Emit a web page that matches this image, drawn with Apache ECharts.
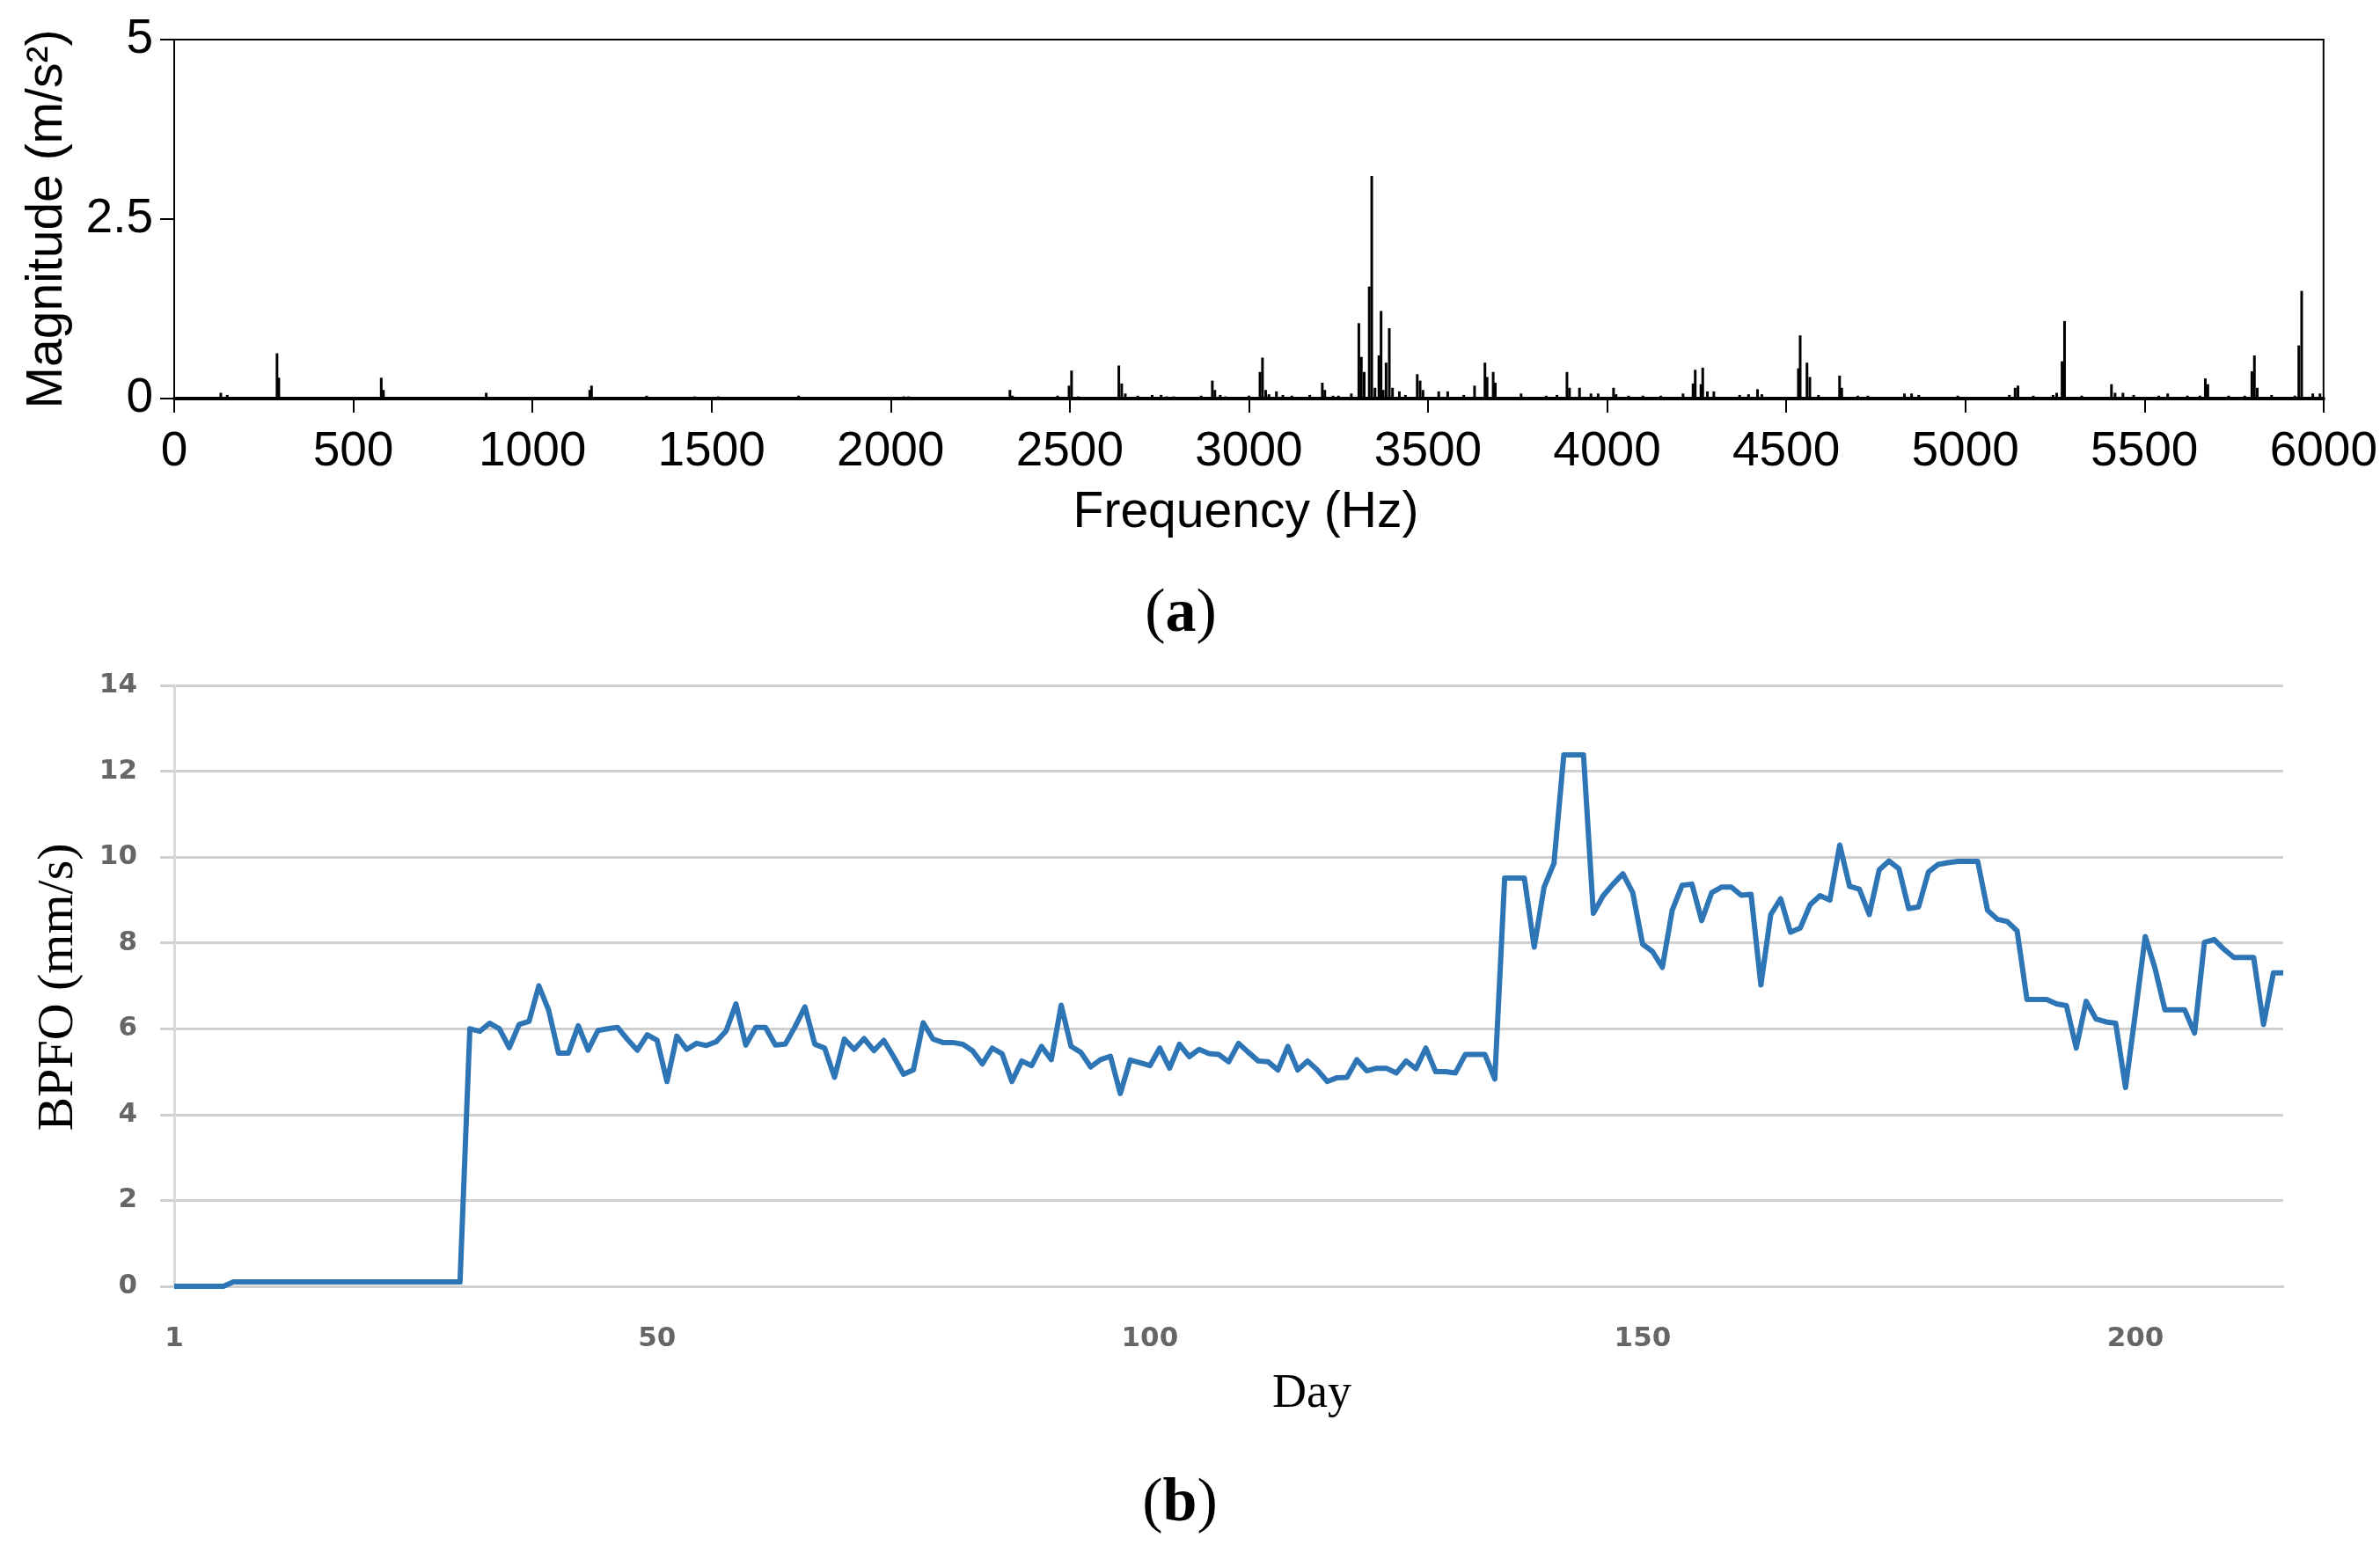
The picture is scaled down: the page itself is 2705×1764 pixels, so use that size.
<!DOCTYPE html>
<html>
<head>
<meta charset="utf-8">
<script src="https://cdn.jsdelivr.net/npm/echarts@6/dist/echarts.min.js"></script>
<style>
    html, body { margin: 0; padding: 0; background: #fff; }
    #chart { width: 2705px; height: 1764px; }
</style>
</head>
<body>
<div id="chart"></div>
<script>
// (a) spectrum peaks: frequency in Hz and magnitude in m/s^2
var specFreq = [130, 148, 287, 292, 578, 584, 871, 1160, 1165, 1319, 1453, 1519, 1743, 2037, 2050,
    2333, 2340, 2466, 2498, 2505, 2524, 2637, 2645, 2655, 2690, 2730, 2755, 2770, 2790, 2867, 2898,
    2905, 2920, 2935, 3000, 3031, 3038, 3047, 3056, 3077, 3095, 3120, 3170, 3205, 3212, 3235, 3250,
    3286, 3307, 3314, 3322, 3336, 3343, 3352, 3363, 3369, 3375, 3383, 3392, 3401, 3420, 3437, 3470,
    3478, 3486, 3530, 3555, 3600, 3630, 3659, 3665, 3682, 3688, 3760, 3830, 3860, 3888, 3895, 3923,
    3955, 3975, 4018, 4025, 4060, 4100, 4150, 4212, 4240, 4246, 4262, 4267, 4280, 4298, 4370, 4395,
    4420, 4432, 4534, 4539, 4558, 4566, 4590, 4649, 4655, 4700, 4728, 4830, 4850, 4870, 4979, 5123,
    5139, 5147, 5190, 5245, 5255, 5270, 5277, 5325, 5408, 5418, 5440, 5470, 5540, 5565, 5620, 5655,
    5670, 5677, 5735, 5780, 5800, 5807, 5815, 5855, 5920, 5931, 5939, 5970, 5990];
var specMag = [0.08, 0.05, 0.63, 0.29, 0.29, 0.12, 0.08, 0.12, 0.18, 0.04, 0.03, 0.03, 0.04, 0.03, 0.03,
    0.12, 0.04, 0.04, 0.18, 0.39, 0.03, 0.46, 0.21, 0.07, 0.04, 0.05, 0.05, 0.03, 0.03, 0.04, 0.25,
    0.12, 0.05, 0.03, 0.04, 0.37, 0.57, 0.12, 0.06, 0.10, 0.05, 0.04, 0.05, 0.22, 0.12, 0.04, 0.04,
    0.07, 1.05, 0.58, 0.37, 1.56, 3.10, 0.15, 0.60, 1.22, 0.12, 0.50, 0.98, 0.15, 0.10, 0.05, 0.34,
    0.25, 0.12, 0.10, 0.10, 0.05, 0.18, 0.50, 0.30, 0.37, 0.22, 0.07, 0.04, 0.05, 0.37, 0.15, 0.15,
    0.07, 0.07, 0.15, 0.06, 0.04, 0.04, 0.04, 0.07, 0.21, 0.40, 0.20, 0.43, 0.10, 0.10, 0.05, 0.06,
    0.13, 0.06, 0.42, 0.88, 0.50, 0.30, 0.05, 0.32, 0.15, 0.04, 0.04, 0.07, 0.07, 0.05, 0.04, 0.05,
    0.15, 0.18, 0.04, 0.05, 0.08, 0.52, 1.08, 0.04, 0.20, 0.08, 0.08, 0.05, 0.04, 0.07, 0.04, 0.04,
    0.28, 0.20, 0.04, 0.04, 0.38, 0.60, 0.15, 0.05, 0.04, 0.74, 1.50, 0.07, 0.07];
var freqTicks = [0, 6000, 500];
var magTicks = [0, 5, 2.5];

// (b) daily BPFO values, mm/s
var bpfoDay1to30 = [0, 0, 0, 0, 0, 0, 0.1, 0.1, 0.1, 0.1, 0.1, 0.1, 0.1, 0.1, 0.1, 0.1, 0.1, 0.1,
    0.1, 0.1, 0.1, 0.1, 0.1, 0.1, 0.1, 0.1, 0.1, 0.1, 0.1, 0.1];
var bpfoDay31to85 = [6.0, 5.94, 6.13, 6.0, 5.56, 6.1, 6.17, 7.0, 6.43, 5.43, 5.43, 6.07, 5.5, 5.96,
    6.0, 6.03, 5.75, 5.5, 5.86, 5.73, 4.77, 5.83, 5.52, 5.66, 5.61, 5.7, 5.95, 6.58, 5.62, 6.03,
    6.03, 5.62, 5.64, 6.05, 6.51, 5.64, 5.55, 4.87, 5.76, 5.52, 5.77, 5.49, 5.73, 5.35, 4.94, 5.04,
    6.14, 5.76, 5.68, 5.68, 5.64, 5.49, 5.18, 5.55, 5.42];
var bpfoDay86to135 = [4.77, 5.25, 5.14, 5.59, 5.28, 6.55, 5.59, 5.45, 5.11, 5.28, 5.36, 4.49, 5.27,
    5.21, 5.14, 5.55, 5.08, 5.64, 5.35, 5.52, 5.42, 5.4, 5.23, 5.66, 5.45, 5.25, 5.23, 5.04, 5.59,
    5.04, 5.25, 5.04, 4.77, 4.86, 4.87, 5.28, 5.02, 5.08, 5.08, 4.97, 5.25, 5.07, 5.55, 5.0, 5.0,
    4.97, 5.4, 5.4, 5.4, 4.83];
var bpfoDay136to215 = [9.51, 9.51, 9.51, 7.9, 9.3, 9.85, 12.38, 12.38, 12.38, 8.69, 9.1, 9.37, 9.61,
    9.17, 7.97, 7.8, 7.43, 8.76, 9.34, 9.37, 8.52, 9.17, 9.3, 9.3, 9.11, 9.13, 7.02, 8.66, 9.03, 8.25,
    8.35, 8.89, 9.1, 9.0, 10.28, 9.32, 9.25, 8.66, 9.7, 9.91, 9.73, 8.8, 8.84, 9.65, 9.83, 9.87, 9.9,
    9.9, 9.9, 8.76, 8.55, 8.5, 8.28, 6.68, 6.68, 6.68, 6.58, 6.54, 5.55, 6.64, 6.23, 6.16, 6.13, 4.63,
    6.37, 8.15, 7.4, 6.44, 6.44, 6.44, 5.9, 8.01, 8.08, 7.85, 7.66, 7.66, 7.66, 6.1, 7.3, 7.3];
var bpfoTicks = [0, 14, 2];

var bpfo = bpfoDay1to30.concat(bpfoDay31to85, bpfoDay86to135, bpfoDay136to215);
var days = [], spectrum = [], i;
for (i = 0; i < bpfo.length; i++) {
    days.push(String(i + 1));
}
for (i = 0; i < specFreq.length; i++) {
    spectrum.push([specFreq[i], specMag[i]]);
}

var sansFont = '"Liberation Sans", Arial, sans-serif';
var serifFont = '"Liberation Serif", "Times New Roman", serif';
var gridGray = '#d0d0d0';

function caption(letter, x, y) {
    return {
        type: 'text', x: x, y: y,
        style: {
            text: '{p|(}{l|' + letter + '}{p|)}',
            align: 'center', verticalAlign: 'middle',
            rich: {
                p: { fontFamily: serifFont, fontSize: 70, fill: '#000' },
                l: { fontFamily: serifFont, fontSize: 70, fontWeight: 'bold', fill: '#000' }
            }
        }
    };
}

var myChart = echarts.init(document.getElementById('chart'), null, { renderer: 'canvas' });

var option = {
    backgroundColor: '#fff',
    animation: false,
    grid: [
        { left: 198, top: 45, width: 2443, height: 408, show: true, borderColor: '#000', borderWidth: 2, backgroundColor: 'transparent' },
        { left: 198, top: 779, width: 2397, height: 683 }
    ],
    xAxis: [
        {
            gridIndex: 0, type: 'value',
            min: freqTicks[0], max: freqTicks[1], interval: freqTicks[2],
            axisLine: { show: true, lineStyle: { color: '#000', width: 4 } },
            axisTick: { show: true, length: 16, lineStyle: { color: '#000', width: 2 } },
            axisLabel: {
                fontFamily: sansFont, fontSize: 55, color: '#000', margin: 33,
                formatter: function (v) { return String(v); }
            },
            splitLine: { show: false }
        },
        {
            gridIndex: 1, type: 'category', data: days, boundaryGap: false,
            axisLine: { show: true, lineStyle: { color: gridGray, width: 3 } },
            axisTick: { show: false },
            axisLabel: {
                fontFamily: '"DejaVu Sans", sans-serif', fontSize: 31, fontWeight: 'bold', color: '#666', margin: 44,
                interval: function (index) {
                    return index === 0 || (index + 1) % 50 === 0;
                }
            },
            splitLine: { show: false }
        }
    ],
    yAxis: [
        {
            gridIndex: 0, type: 'value',
            min: magTicks[0], max: magTicks[1], interval: magTicks[2],
            axisLine: { show: true, lineStyle: { color: '#000', width: 2 } },
            axisTick: { show: true, length: 16, lineStyle: { color: '#000', width: 2 } },
            axisLabel: { fontFamily: sansFont, fontSize: 55, color: '#000', margin: 24 },
            splitLine: { show: false }
        },
        {
            gridIndex: 1, type: 'value',
            min: bpfoTicks[0], max: bpfoTicks[1], interval: bpfoTicks[2],
            axisLine: { show: true, lineStyle: { color: '#dadada', width: 3 } },
            axisTick: { show: true, length: 16, lineStyle: { color: gridGray, width: 3 } },
            axisLabel: { fontFamily: '"DejaVu Sans", sans-serif', fontSize: 31, fontWeight: 'bold', color: '#666', margin: 42 },
            splitLine: { show: true, lineStyle: { color: gridGray, width: 3 } }
        }
    ],
    series: [
        {
            type: 'bar', xAxisIndex: 0, yAxisIndex: 0,
            data: spectrum, barWidth: 3,
            itemStyle: { color: '#000' }
        },
        {
            type: 'line', xAxisIndex: 1, yAxisIndex: 1,
            data: bpfo, showSymbol: false,
            lineStyle: { color: '#2e75b6', width: 6, join: 'round' }
        }
    ],
    graphic: [
        {
            type: 'text', x: 54, y: 249, rotation: Math.PI / 2,
            style: { text: 'Magnitude (m/s²)', fontFamily: sansFont, fontSize: 57, fill: '#000', align: 'center', verticalAlign: 'middle' }
        },
        {
            type: 'text', x: 1416, y: 583,
            style: { text: 'Frequency (Hz)', fontFamily: sansFont, fontSize: 57, fill: '#000', align: 'center', verticalAlign: 'middle' }
        },
        caption('a', 1342, 699),
        {
            type: 'text', x: 67, y: 1122, rotation: Math.PI / 2,
            style: { text: 'BPFO (mm/s)', fontFamily: serifFont, fontSize: 58, fill: '#000', align: 'center', verticalAlign: 'middle' }
        },
        {
            type: 'text', x: 1491, y: 1585,
            style: { text: 'Day', fontFamily: serifFont, fontSize: 54, fill: '#000', align: 'center', verticalAlign: 'middle' }
        },
        caption('b', 1341, 1710)
    ]
};

myChart.setOption(option);
</script>
</body>
</html>
